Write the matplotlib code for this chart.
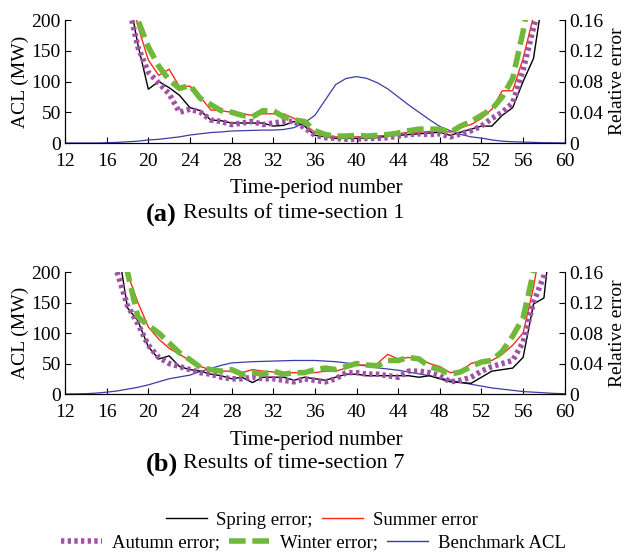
import numpy as np
import matplotlib
matplotlib.use('Agg')
import matplotlib.pyplot as plt
from matplotlib.lines import Line2D

plt.rcParams['font.family'] = ['Liberation Serif', 'DejaVu Serif']

# time periods
periods = np.arange(12, 61)

# (a) time-section 1
bench_a = [0, 0, 0, 0, 0.5, 1, 2, 3, 5, 6, 8, 10, 13, 15, 17, 18, 19.5, 20, 20.5, 21, 21, 22, 25, 33,
           45, 70, 95, 105, 108, 105, 98, 88, 75, 62, 50, 38, 27, 20, 14, 10, 8, 5, 3, 2, 1.5, 1, 0.5, 0.3, 0]
x_a_err = np.arange(18, 59)
spring_a = [0.200, 0.128, 0.070, 0.080, 0.072, 0.062, 0.046, 0.042, 0.030, 0.029, 0.026, 0.026, 0.026, 0.026,
            0.022, 0.023, 0.028, 0.022, 0.010, 0.008, 0.006, 0.006, 0.006, 0.006, 0.007, 0.009, 0.010, 0.011,
            0.012, 0.013, 0.014, 0.010, 0.014, 0.018, 0.022, 0.022, 0.036, 0.046, 0.080, 0.110, 0.200]
summer_a = [0.220, 0.152, 0.108, 0.088, 0.096, 0.073, 0.074, 0.060, 0.043, 0.042, 0.040, 0.038, 0.036, 0.038,
            0.038, 0.038, 0.032, 0.024, 0.014, 0.009, 0.008, 0.008, 0.008, 0.008, 0.009, 0.010, 0.012, 0.014,
            0.014, 0.015, 0.016, 0.014, 0.020, 0.024, 0.032, 0.044, 0.068, 0.068, 0.110, 0.165, 0.220]
autumn_a = [0.185, 0.125, 0.092, 0.078, 0.064, 0.040, 0.044, 0.040, 0.030, 0.028, 0.024, 0.026, 0.028, 0.024,
            0.026, 0.028, 0.028, 0.020, 0.010, 0.007, 0.006, 0.005, 0.005, 0.006, 0.006, 0.007, 0.009, 0.011,
            0.012, 0.011, 0.012, 0.008, 0.012, 0.016, 0.022, 0.032, 0.040, 0.052, 0.095, 0.150, 0.200]
winter_a = [0.220, 0.160, 0.125, 0.100, 0.082, 0.071, 0.075, 0.058, 0.050, 0.042, 0.040, 0.036, 0.034, 0.042,
            0.042, 0.034, 0.030, 0.028, 0.016, 0.011, 0.009, 0.009, 0.010, 0.009, 0.010, 0.011, 0.013, 0.016,
            0.018, 0.018, 0.018, 0.014, 0.022, 0.028, 0.036, 0.044, 0.060, 0.084, 0.145, 0.220, 0.260]

# (b) time-section 7
bench_b = [0, 0.2, 0.5, 1.5, 3, 5, 8, 11, 15, 20, 25, 28, 31, 37, 42, 47, 51, 52, 53, 53.5, 54, 54.5, 55, 55,
           55, 54, 53, 51, 48, 46, 43, 41, 39, 36, 33, 30, 26, 23, 19, 16, 13, 10, 8, 6, 4, 3, 2, 1, 0.5]
x_b_err = np.arange(17, 60)
spring_b = [0.200, 0.113, 0.096, 0.062, 0.046, 0.050, 0.036, 0.032, 0.030, 0.026, 0.024, 0.020, 0.022, 0.015,
            0.022, 0.022, 0.022, 0.018, 0.022, 0.020, 0.018, 0.022, 0.026, 0.026, 0.024, 0.024, 0.024, 0.024,
            0.024, 0.022, 0.024, 0.020, 0.016, 0.015, 0.014, 0.022, 0.030, 0.032, 0.034, 0.048, 0.118, 0.126, 0.250]
summer_b = [0.260, 0.158, 0.120, 0.088, 0.072, 0.060, 0.052, 0.044, 0.036, 0.032, 0.030, 0.030, 0.028, 0.032,
            0.030, 0.029, 0.028, 0.028, 0.028, 0.028, 0.030, 0.030, 0.034, 0.038, 0.038, 0.040, 0.052, 0.046,
            0.048, 0.046, 0.040, 0.036, 0.028, 0.030, 0.040, 0.044, 0.044, 0.052, 0.064, 0.080, 0.140, 0.220, 0.300]
autumn_b = [0.160, 0.116, 0.092, 0.064, 0.048, 0.040, 0.036, 0.032, 0.028, 0.026, 0.022, 0.020, 0.020, 0.022,
            0.020, 0.020, 0.018, 0.016, 0.020, 0.018, 0.016, 0.020, 0.028, 0.028, 0.026, 0.026, 0.024, 0.022,
            0.030, 0.030, 0.028, 0.024, 0.016, 0.018, 0.022, 0.030, 0.036, 0.040, 0.044, 0.068, 0.120, 0.155, 0.220]
winter_b = [0.260, 0.160, 0.101, 0.090, 0.080, 0.067, 0.054, 0.045, 0.035, 0.032, 0.030, 0.032, 0.026, 0.028,
            0.026, 0.030, 0.026, 0.028, 0.028, 0.032, 0.034, 0.032, 0.036, 0.040, 0.038, 0.037, 0.044, 0.044,
            0.048, 0.046, 0.036, 0.032, 0.026, 0.029, 0.036, 0.042, 0.044, 0.056, 0.076, 0.100, 0.160, 0.240, 0.300]

c_spring = 'black'
c_summer = '#ff2a1a'
c_autumn = '#a052a8'
c_winter = '#6fb83a'
c_bench = '#3c3ca8'

fig = plt.figure(figsize=(6.27, 5.53), dpi=100)


def panel(rect, bench, xe, spring, summer, autumn, winter):
    ax = fig.add_axes(rect)
    ax.plot(periods, bench, color=c_bench, lw=0.9)
    ax.set_xlim(12, 60)
    ax.set_ylim(0, 200)
    ax.set_xticks(range(12, 61, 4))
    ax.set_yticks([0, 50, 100, 150, 200])
    ax.set_ylabel('ACL (MW)', fontsize=14, labelpad=2)
    ax.spines['top'].set_visible(False)
    ax.tick_params(direction='in', length=4, labelsize=14)
    ax.tick_params(axis='y', pad=3)
    ax.tick_params(axis='x', pad=7)
    ax2 = ax.twinx()
    ax2.plot(xe, spring, color=c_spring, lw=1.0)
    ax2.plot(xe, summer, color=c_summer, lw=1.0)
    ax2.plot(xe, autumn, color=c_autumn, lw=4, linestyle=(0, (0.6, 0.6)))
    ax2.plot(xe, winter, color=c_winter, lw=4, linestyle=(0, (3, 1.2)))
    ax2.set_ylim(0, 0.16)
    ax2.set_yticks([0, 0.04, 0.08, 0.12, 0.16])
    ax2.set_yticklabels(['0', '0.04', '0.08', '0.12', '0.16'])
    ax2.set_ylabel('Relative error', fontsize=14, labelpad=4)
    ax2.spines['top'].set_visible(False)
    ax2.tick_params(direction='in', length=4, labelsize=14, pad=3)
    return ax


ax_a = panel([0.1037, 0.7414, 0.797, 0.2224], bench_a, x_a_err, spring_a, summer_a, autumn_a, winter_a)
ax_b = panel([0.1037, 0.2875, 0.797, 0.2206], bench_b, x_b_err, spring_b, summer_b, autumn_b, winter_b)

fig.text(0.504, 1 - 189 / 553, 'Time-period number', ha='center', va='center', fontsize=15)
fig.text(0.504, 1 - 441 / 553, 'Time-period number', ha='center', va='center', fontsize=15)

fig.text(146 / 627, 1 - 215 / 553, '(a)', ha='left', va='center', fontsize=19, fontweight='bold')
fig.text(183 / 627, 1 - 214 / 553, 'Results of time-section 1', ha='left', va='center', fontsize=16)
fig.text(146 / 627, 1 - 464 / 553, '(b)', ha='left', va='center', fontsize=19, fontweight='bold')
fig.text(183 / 627, 1 - 463 / 553, 'Results of time-section 7', ha='left', va='center', fontsize=16)

h1 = [Line2D([], [], color=c_spring, lw=1.0), Line2D([], [], color=c_summer, lw=1.0)]
fig.legend(h1, ['Spring error;', 'Summer error'], loc='center', bbox_to_anchor=(0.513, 1 - 520 / 553),
           ncol=2, frameon=False, fontsize=13.5, handlelength=2.2, columnspacing=0.5, handletextpad=0.5)
h2 = [Line2D([], [], color=c_autumn, lw=4, linestyle=(0, (0.6, 0.6))),
      Line2D([], [], color=c_winter, lw=4, linestyle=(0, (3, 1.2))),
      Line2D([], [], color=c_bench, lw=1.0)]
fig.legend(h2, ['Autumn error;', 'Winter error;', 'Benchmark ACL'], loc='center',
           bbox_to_anchor=(0.5, 1 - 543 / 553), ncol=3, frameon=False, fontsize=13.5,
           handlelength=2.2, columnspacing=0.5, handletextpad=0.5)

fig.savefig('out.png', dpi=100)
